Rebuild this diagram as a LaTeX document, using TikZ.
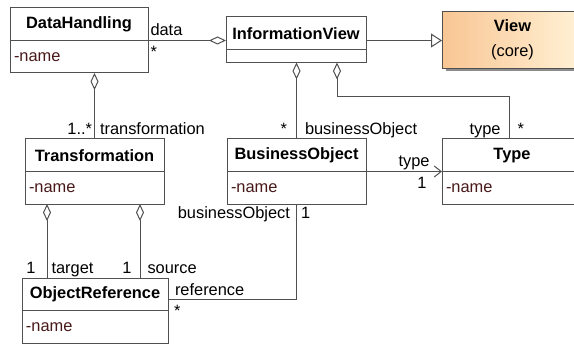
\documentclass[tikz,border=0pt]{standalone}
\usepackage{fontspec}
\setmainfont{Liberation Sans}
\usetikzlibrary{positioning, arrows.meta, shadows}

\definecolor{linegray}{RGB}{80,80,80}
\definecolor{attrred}{RGB}{72,24,24}
\definecolor{viewleft}{RGB}{249,198,148}
\definecolor{viewright}{RGB}{255,242,214}

\begin{document}
\begin{tikzpicture}[x=1pt, y=1pt, font=\fontsize{16.4pt}{19pt}\selectfont]
    \tikzset{cls/.style={rectangle,draw=linegray,line width=1pt,outer sep=0pt,minimum width=#1,minimum height=32.5pt,execute at begin node=\bfseries}}
    \tikzset{attr/.style={rectangle,draw=linegray,line width=1pt,outer sep=0pt,text width=#1,align=left,inner xsep=4pt,minimum height=32.5pt,text=attrred}}
    \tikzset{core/.style={rectangle,draw=linegray,line width=1pt,left color=viewleft,right color=viewright,drop shadow={shadow xshift=3pt,shadow yshift=-3pt,fill=black!45,opacity=1},minimum width=140pt,minimum height=57pt,align=center}}
    \tikzset{lbl/.style={inner sep=2pt,text height=0.72em,text depth=0.2em}}
    \tikzset{agg/.style={draw=linegray,line width=1pt,{Diamond[open,length=17pt,width=8pt]}-}}
    \tikzset{gen/.style={draw=linegray,line width=1pt,-{Triangle[open,length=11pt,width=14pt]}}}
    \tikzset{nav/.style={draw=linegray,line width=1pt,-{Straight Barb[length=7pt,width=11pt]}}}
    \useasboundingbox (0,0) rectangle (574,-345);

    % Classes
    \node[cls=138pt, anchor=north west] (dh) at (10,-8) {DataHandling};
    \node[attr=130pt, below=0pt of dh] (dh attr) {-name};

    \node[cls=140pt, anchor=north west] (iv) at (226,-17) {InformationView};
    \node[attr=132pt, minimum height=13pt, below=0pt of iv] (iv attr) {};

    \node[core, anchor=north west] (view) at (442,-11) {\textbf{View}\\[6pt](core)};

    \node[cls=139pt, anchor=north west] (tr) at (25,-139) {Transformation};
    \node[attr=131pt, below=0pt of tr] (tr attr) {-name};

    \begin{scope}[node distance=0pt]
    \node[cls=139pt, right=63pt of tr] (bo) {BusinessObject};
    \node[attr=131pt, below=of bo] (bo attr) {-name};

    \node[cls=140pt, right=76pt of bo] (ty) {Type};
    \node[attr=132pt, below=of ty] (ty attr) {-name};
    \end{scope}

    \node[cls=146pt, anchor=north west] (orf) at (22,-278) {ObjectReference};
    \node[attr=138pt, below=0pt of orf] (orf attr) {-name};

    % Associations
    \draw[agg] (dh attr.north east -| iv.west) -- (dh attr.north east)
        node[lbl, pos=1, anchor=south west] {data}
        node[lbl, pos=1, anchor=north west, yshift=-7pt] {*};
    \draw[gen] (dh attr.north east -| iv.east) -- (dh attr.north east -| view.west);

    \draw[agg] (tr.north |- dh attr.south) -- (tr.north)
        node[lbl, pos=1, anchor=south east] {1..*}
        node[lbl, pos=1, anchor=south west, xshift=3pt] {transformation};
    \draw[agg] (bo.north |- iv attr.south) -- (bo.north)
        node[lbl, pos=1, anchor=south east, xshift=-7pt] {*}
        node[lbl, pos=1, anchor=south west, xshift=6pt] {businessObject};
    \draw[agg] ([xshift=41pt]iv attr.south) -- ++(0,-34) -| ([xshift=-3pt]ty.north)
        node[lbl, pos=1, anchor=south east, xshift=-6pt] {type}
        node[lbl, pos=1, anchor=south west, xshift=6pt] {*};

    \draw[nav] (bo attr.north east) -- (ty attr.north west)
        node[lbl, pos=1, anchor=south east, xshift=-10pt] {type}
        node[lbl, pos=1, anchor=north east, xshift=-13pt, yshift=-7pt] {1};

    \draw[agg] ([xshift=22pt]tr attr.south west) -- ([xshift=22pt]tr attr.south west |- orf.north)
        node[lbl, pos=1, anchor=south east, xshift=-9pt] {1}
        node[lbl, pos=1, anchor=south west, xshift=2pt] {target};
    \draw[agg] ([xshift=-24pt]tr attr.south east) -- ([xshift=-24pt]tr attr.south east |- orf.north)
        node[lbl, pos=1, anchor=south east, xshift=-6pt] {1}
        node[lbl, pos=1, anchor=south west, xshift=5pt] {source};

    \draw[draw=linegray, line width=1pt] (bo attr.south) |- ([yshift=-5.5pt]orf.east)
        node[lbl, pos=0, anchor=north east, xshift=-4pt, yshift=-4.5pt] {businessObject}
        node[lbl, pos=0, anchor=north west, xshift=2pt, yshift=-4.5pt] {1}
        node[lbl, pos=1, anchor=south west, xshift=4.5pt] {reference}
        node[lbl, pos=1, anchor=north west, xshift=3.5pt, yshift=-7pt] {*};
\end{tikzpicture}
\end{document}
